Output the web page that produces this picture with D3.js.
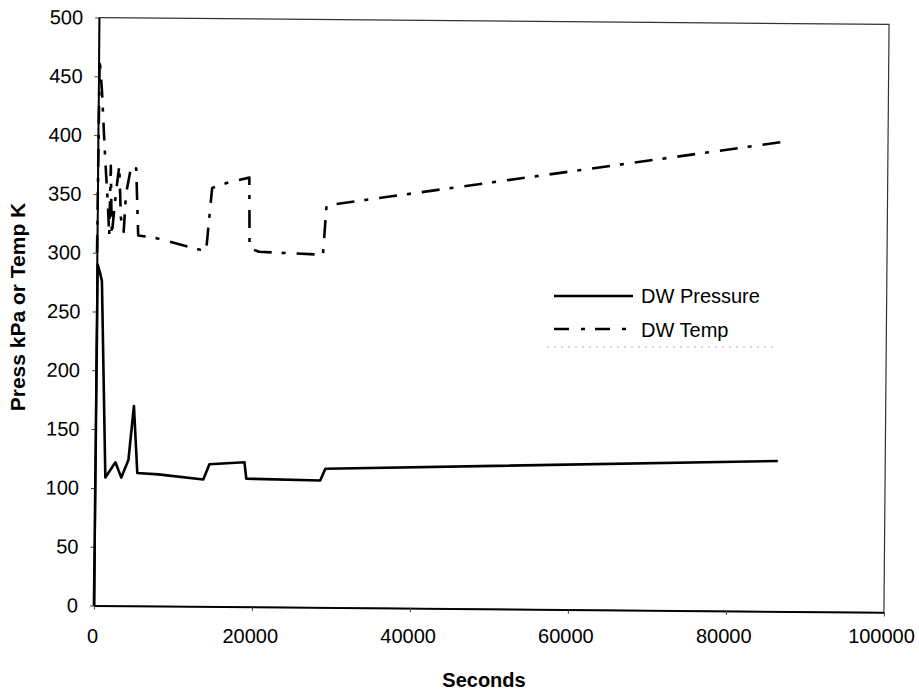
<!DOCTYPE html>
<html>
<head>
<meta charset="utf-8">
<script src="https://cdn.jsdelivr.net/npm/d3@7"></script>
<style>
  body { margin: 0; background: #fff; }
  svg { display: block; font-family: "Liberation Sans", Arial, sans-serif; }
</style>
</head>
<body>
<svg id="chart" width="919" height="691"></svg>
<script>
// tick labels
var xTicks = [0, 20000, 40000, 60000, 80000, 100000];
var yTicks = [0, 50, 100, 150, 200, 250, 300, 350, 400, 450, 500];

// DW Pressure (kPa)
var pressTime = [0, 100, 400, 650, 1300, 2560, 3320, 4200, 4840, 5340, 8000, 13700, 14460, 18890, 19140, 28500, 29140, 86400];
var pressVal  = [0, 290, 283, 276, 109, 122, 109, 124, 170, 113, 112, 108, 121, 123, 109, 108, 118, 128];

// DW Temp (K)
var tempTime = [0, 120, 450, 800, 950, 1330, 1520, 1650, 1840, 2340, 2720, 2980, 3350, 3600, 4240, 4870, 5190, 7400, 13800, 14500, 16700, 19200, 19300, 20500, 28600, 29000, 86400];
var tempVal  = [300, 465, 437, 395, 378, 340, 315, 374, 315, 352, 374, 330, 318, 350, 374, 372, 315, 313, 302, 356, 361, 365, 305, 302, 300, 342, 399];

var seriesNames = ["DW Pressure", "DW Temp"];

var svg = d3.select("#chart");

// plot frame (the scan is tilted a little, so the frame is turned with it)
var plotLeft = 96.5, plotTop = 21, plotW = 790, plotH = 588;
var tilt = 0.5;
var cx = plotLeft + plotW / 2, cy = plotTop + plotH / 2;

var x = d3.scaleLinear().domain([0, 100000]).range([0, plotW]);
var y = d3.scaleLinear().domain([0, 500]).range([plotH, 0]);

var plot = svg.append("g")
  .attr("transform", "rotate(" + tilt + "," + cx + "," + cy + ") translate(" + plotLeft + "," + plotTop + ")");

plot.append("rect")
  .attr("width", plotW).attr("height", plotH)
  .attr("fill", "none").attr("stroke", "#333").attr("stroke-width", 1.2);

// y axis with labels
var yAxis = plot.append("g")
  .call(d3.axisLeft(y).tickValues(yTicks).tickSize(4).tickSizeOuter(0).tickPadding(12));
yAxis.select(".domain").attr("stroke", "#000").attr("stroke-width", 1.8);
yAxis.selectAll("line").attr("stroke", "#444");
yAxis.selectAll("text").attr("font-size", 20).attr("fill", "#000")
  .attr("font-family", "'Liberation Sans', Arial, sans-serif");

// x axis ticks only (labels drawn level below)
var xAxis = plot.append("g")
  .attr("transform", "translate(0," + plotH + ")")
  .call(d3.axisBottom(x).tickValues(xTicks).tickSize(4).tickSizeOuter(0).tickFormat(""));
xAxis.select(".domain").attr("stroke", "#000").attr("stroke-width", 1.8);
xAxis.selectAll("line").attr("stroke", "#444");

// x tick labels, not tilted
var xl = d3.scaleLinear().domain([0, 100000]).range([92, 881]);
var xLab = svg.append("g")
  .attr("transform", "translate(0,605)")
  .call(d3.axisBottom(xl).tickValues(xTicks).tickSize(0).tickPadding(24).tickFormat(d3.format("d")));
xLab.select(".domain").remove();
xLab.selectAll("text").attr("font-size", 20).attr("fill", "#000")
  .attr("font-family", "'Liberation Sans', Arial, sans-serif");

// lines
var line = d3.line().x(function(d) { return x(d[0]); }).y(function(d) { return y(d[1]); });

var pressData = d3.zip(pressTime, pressVal);
var tempData = d3.zip(tempTime, tempVal);

plot.append("path")
  .datum(pressData)
  .attr("d", line)
  .attr("fill", "none").attr("stroke", "#000").attr("stroke-width", 2.6)
  .attr("stroke-linejoin", "round");

plot.append("path")
  .datum(tempData)
  .attr("d", line)
  .attr("fill", "none").attr("stroke", "#000").attr("stroke-width", 2.6)
  .attr("stroke-dasharray", "18,10,4,11")
  .attr("stroke-linejoin", "round");

// legend
var legend = svg.append("g");
legend.append("line")
  .attr("x1", 554).attr("x2", 633).attr("y1", 296).attr("y2", 296)
  .attr("stroke", "#000").attr("stroke-width", 2.4);
legend.append("text")
  .attr("x", 641).attr("y", 303).attr("font-size", 20).text(seriesNames[0]);
legend.append("line")
  .attr("x1", 554).attr("x2", 633).attr("y1", 329).attr("y2", 329)
  .attr("stroke", "#000").attr("stroke-width", 2.4)
  .attr("stroke-dasharray", "15,12,4,10");
legend.append("text")
  .attr("x", 641).attr("y", 337).attr("font-size", 20).text(seriesNames[1]);
// faint leftover of the legend box edge in the scan
legend.append("line")
  .attr("x1", 547).attr("x2", 775).attr("y1", 347).attr("y2", 347)
  .attr("stroke", "#999").attr("stroke-width", 0.8).attr("stroke-dasharray", "2,5");

// axis titles
svg.append("text")
  .attr("x", 484).attr("y", 687)
  .attr("text-anchor", "middle").attr("font-size", 20).attr("font-weight", "bold")
  .text("Seconds");

svg.append("text")
  .attr("transform", "translate(25,307) rotate(-90)")
  .attr("text-anchor", "middle").attr("font-size", 21).attr("font-weight", "bold")
  .text("Press kPa or Temp K");
</script>
</body>
</html>
